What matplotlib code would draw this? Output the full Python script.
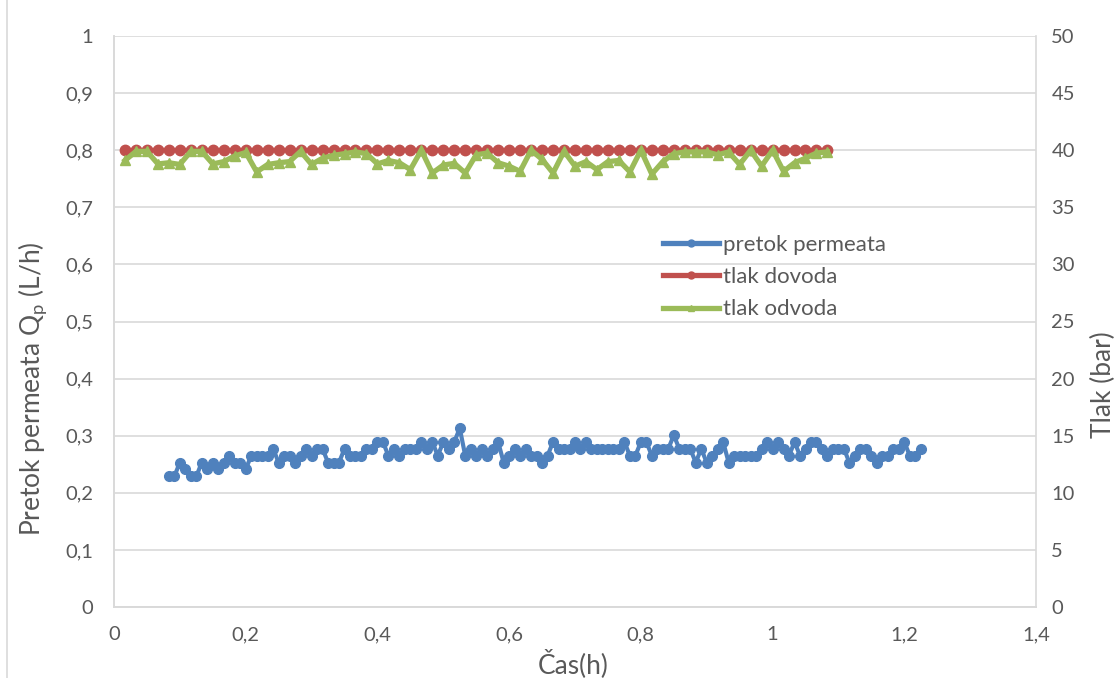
import numpy as np
import matplotlib
matplotlib.use('Agg')
import matplotlib.pyplot as plt
from matplotlib.lines import Line2D

plt.rcParams['font.family'] = ['Lato', 'DejaVu Sans']

# permeate flow (L/h), sampled every 30 s starting at 5 min
flow_start = 5 / 60
flow_step = 0.5 / 60
pretok_permeata = [
    0.229, 0.229, 0.253, 0.241, 0.229, 0.229, 0.253, 0.241, 0.253, 0.241, 0.253, 0.265,
    0.253, 0.253, 0.241, 0.265, 0.265, 0.265, 0.265, 0.277, 0.253, 0.265, 0.265, 0.253,
    0.265, 0.277, 0.265, 0.277, 0.277, 0.253, 0.253, 0.253, 0.277, 0.265, 0.265,
    0.265, 0.277, 0.277, 0.289, 0.289, 0.265, 0.277, 0.265, 0.277, 0.277, 0.277, 0.289,
    0.277, 0.289, 0.265, 0.289, 0.277, 0.289, 0.313, 0.265, 0.277, 0.265, 0.277, 0.265,
    0.277, 0.289, 0.253, 0.265, 0.277, 0.265, 0.277, 0.265, 0.265, 0.253, 0.265,
    0.289, 0.277, 0.277, 0.277, 0.289, 0.277, 0.289, 0.277, 0.277, 0.277, 0.277, 0.277,
    0.277, 0.289, 0.265, 0.265, 0.289, 0.289, 0.265, 0.277, 0.277, 0.277, 0.301, 0.277,
    0.277, 0.277, 0.253, 0.277, 0.253, 0.265, 0.277, 0.289, 0.253, 0.265, 0.265,
    0.265, 0.265, 0.265, 0.277, 0.289, 0.277, 0.289, 0.277, 0.265, 0.289, 0.265, 0.277,
    0.289, 0.289, 0.277, 0.265, 0.277, 0.277, 0.277, 0.253, 0.265, 0.277, 0.277, 0.265,
    0.253, 0.265, 0.265, 0.277, 0.277, 0.289, 0.265, 0.265, 0.277,
]

# pressures (bar), sampled every minute starting at 1 min
p_start = 1 / 60
p_step = 1 / 60
tlak_dovoda = [40.0] * 65
tlak_odvoda = [
    39.1, 39.9, 39.9, 38.8, 38.9, 38.75, 39.9, 39.9, 38.8, 39.0, 39.5, 39.8, 38.1,
    38.75, 38.9, 39.0, 39.9, 38.75, 39.3, 39.55, 39.7, 39.85, 39.7, 38.8, 39.1, 38.9,
    38.3, 40.0, 38.0, 38.7, 38.85, 38.0, 39.6, 39.75, 38.9, 38.6, 38.15, 40.0, 39.2,
    38.0, 39.9, 38.6, 39.0, 38.3, 39.0, 39.1, 38.1, 40.0, 37.9, 39.0, 39.7, 39.85,
    39.85, 39.85, 39.6, 39.85, 38.75, 40.0, 38.6, 40.0, 38.15, 38.9, 39.3, 39.75, 39.85,
]

t_flow = flow_start + flow_step * np.arange(len(pretok_permeata))
t_p = p_start + p_step * np.arange(len(tlak_odvoda))

x_ticks = [0, 0.2, 0.4, 0.6, 0.8, 1.0, 1.2, 1.4]
y_left_ticks = [0, 0.1, 0.2, 0.3, 0.4, 0.5, 0.6, 0.7, 0.8, 0.9, 1.0]
y_right_ticks = [0, 5, 10, 15, 20, 25, 30, 35, 40, 45, 50]

blue = '#4F81BD'
red = '#C0504D'
green = '#9BBB59'
txt = '#595959'
grid = '#D9D9D9'
W, H = 1119, 678


def comma(v):
    return ('%g' % v).replace('.', ',')


fig = plt.figure(figsize=(W / 100, H / 100), dpi=100)
ax1 = fig.add_axes([114 / W, 1 - 607 / H, 922 / W, 571 / H])
ax2 = ax1.twinx()

ax1.plot(t_flow, pretok_permeata, color=blue, lw=3, marker='o', ms=7,
         label='pretok permeata', zorder=3)
ax2.plot(t_p, tlak_dovoda, color=red, lw=3, marker='o', ms=7.5,
         label='tlak dovoda', zorder=3)
ax2.plot(t_p, tlak_odvoda, color=green, lw=3.8, marker='^', ms=7.5,
         label='tlak odvoda', zorder=4)

ax1.set_xlim(0, 1.4)
ax1.set_ylim(0, 1)
ax2.set_ylim(0, 50)

ax1.set_xticks(x_ticks)
ax1.set_xticklabels([comma(v) for v in x_ticks])
ax1.set_yticks(y_left_ticks)
ax1.set_yticklabels([comma(v) for v in y_left_ticks])
ax2.set_yticks(y_right_ticks)
ax2.set_yticklabels([str(v) for v in y_right_ticks])

for ax in (ax1, ax2):
    ax.tick_params(length=0, labelsize=14.5, labelcolor=txt)
    ax.spines['top'].set_visible(False)
    for s in ('left', 'right', 'bottom'):
        ax.spines[s].set_color(grid)
        ax.spines[s].set_linewidth(1.2)
ax1.spines['right'].set_visible(False)
ax1.tick_params(axis='y', pad=15)
ax1.tick_params(axis='x', pad=14)
ax2.tick_params(axis='y', pad=11)

ax1.grid(axis='y', color=grid, lw=1.2)
ax1.set_axisbelow(True)

# axis titles placed like the Excel chart
fig.text(573 / W, 1 - 664 / H, 'Čas(h)', fontsize=19, color=txt,
         ha='center', va='center')
fig.text(33 / W, 1 - 389 / H, 'Pretok permeata Q$_\\mathregular{p}$ (L/h)',
         fontsize=19, color=txt, rotation=90, ha='center', va='center')
fig.text(1103 / W, 1 - 385 / H, 'Tlak (bar)', fontsize=19, color=txt,
         rotation=90, ha='center', va='center')

handles = [
    Line2D([], [], color=blue, lw=3.8, marker='o', ms=5),
    Line2D([], [], color=red, lw=3.8, marker='o', ms=5),
    Line2D([], [], color=green, lw=3.8, marker='^', ms=5),
]
ax2.legend(handles, ['pretok permeata', 'tlak dovoda', 'tlak odvoda'],
           loc='upper left', bbox_to_anchor=(663 / W, 1 - 235 / H),
           bbox_transform=fig.transFigure, frameon=False, borderpad=0,
           borderaxespad=0, fontsize=16, labelcolor=txt, handlelength=2.5,
           handletextpad=0.2, labelspacing=0.55)

# chart area border
fig.add_artist(Line2D([7 / W, 7 / W], [0, 1], color=grid, lw=1.2))

fig.savefig('out.png', dpi=100)
